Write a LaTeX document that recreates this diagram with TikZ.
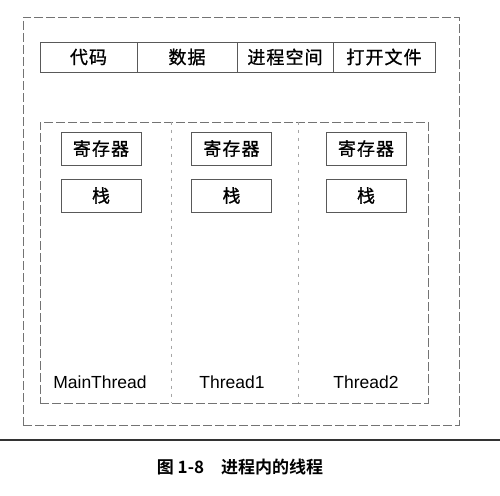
\documentclass[tikz,border=0pt]{standalone}
\usepackage{fontspec}
\setmainfont{Liberation Sans}
\newfontfamily\cjk[LetterSpace=6, FakeBold=1]{Noto Sans CJK SC}
\newfontfamily\cjkbold[BoldFont={* Bold}]{Noto Sans CJK SC}
\begin{document}
\begin{tikzpicture}[x=1pt,y=-1pt,
  frame/.style={draw=black!55, line width=0.6pt, dash pattern=on 9pt off 3pt},
  cell/.style={draw=black!65, line width=0.6pt, minimum height=30pt, inner sep=0pt,
    font=\cjk\fontsize{18}{18}\selectfont, text=black},
  regbox/.style={draw=black!65, line width=0.6pt, minimum width=80pt, minimum height=33pt,
    inner sep=0pt, font=\cjk\fontsize{18}{18}\selectfont, text=black},
  thname/.style={font=\fontsize{17.5}{18}\selectfont, text=black, inner sep=0pt},
  rule/.style={draw=black!80, line width=1.1pt}]
\useasboundingbox (0,0) rectangle (500,495);

% process and the container of its threads
\node[frame, minimum width=436pt, minimum height=408pt, inner sep=0pt] (process) at (241,221) {};
\node[frame, minimum width=388pt, minimum height=281pt, inner sep=0pt] (threads) at (234,262.5) {};
\draw[draw=black!35, line width=0.5pt, dash pattern=on 3pt off 5pt]
  (threads.north west -| 171,0) coordinate (d1top) -- (threads.south west -| 171,0) coordinate (d1bot);
\draw[draw=black!35, line width=0.5pt, dash pattern=on 3pt off 5pt]
  (threads.north west -| 298,0) coordinate (d2top) -- (threads.south west -| 298,0) coordinate (d2bot);

% shared resources of the process
\node[cell, minimum width=97pt]  (code)  at (88.5,57) {代码};
\node[cell, minimum width=100pt] (data)  at (187,57)  {数据};
\node[cell, minimum width=96pt]  (space) at (285,57)  {进程空间};
\node[cell, minimum width=102pt] (files) at (384,57)  {打开文件};

% per-thread registers and stacks
\node[regbox] (reg1)   at (101,148.5)   {寄存器};
\node[regbox] (stack1) at (101,195.5)   {栈};
\node[regbox] (reg2)   at (231.5,148.5) {寄存器};
\node[regbox] (stack2) at (231.5,195.5) {栈};
\node[regbox] (reg3)   at (366,148.5)   {寄存器};
\node[regbox] (stack3) at (366,195.5)   {栈};

% thread names
\node[thname] (main) at (100,382) {MainThread};
\node[thname] (t1)   at (232,382) {Thread1};
\node[thname] (t2)   at (366,382) {Thread2};

% caption
\coordinate (ruleL) at (0,440);
\coordinate (ruleR) at (500,440);
\draw[rule] (ruleL) -- (ruleR);
\node[font=\cjkbold\bfseries\fontsize{17}{17}\selectfont, text=black] (caption) at (240,467) {图 1-8\hspace{1em}进程内的线程};
\end{tikzpicture}
\end{document}
